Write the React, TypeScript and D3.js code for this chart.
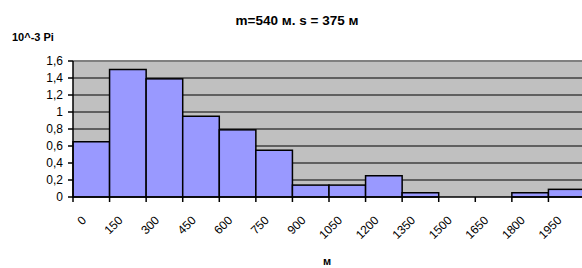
import React from 'react';
import * as d3 from 'd3';

// histogram bins (lower edge, m) and relative frequencies (10^-3)
const binStarts = ['0', '150', '300', '450', '600', '750', '900', '1050', '1200', '1350', '1500', '1650', '1800', '1950'];
const values = [0.65, 1.5, 1.39, 0.95, 0.79, 0.55, 0.14, 0.14, 0.25, 0.05, 0, 0, 0.05, 0.09];
const yTicks = [0, 0.2, 0.4, 0.6, 0.8, 1, 1.2, 1.4, 1.6];

const title = 'm=540 м. s = 375 м';
const yTitle = '10^-3 Pi';
const xTitle = 'м';

const W = 582;
const H = 268;
const plot = { left: 73, right: 585, top: 61, bottom: 197 };
const font = '"Liberation Sans", Arial, sans-serif';

export default function App() {
  const x = d3.scaleBand<string>().domain(binStarts).range([plot.left, plot.right]).padding(0);
  const y = d3.scaleLinear().domain([0, 1.6]).range([plot.bottom, plot.top]);
  const fmt = (v: number) => String(+v.toFixed(1)).replace('.', ',');

  return (
    <div style={{ position: 'fixed', left: 0, top: 0, width: W, height: H, overflow: 'hidden', background: '#fff' }}>
      <svg width={W} height={H} style={{ display: 'block' }} fontFamily={font}>
        <rect x={plot.left} y={plot.top} width={plot.right - plot.left} height={plot.bottom - plot.top} fill="#c0c0c0" />
        {yTicks.filter((t) => t > 0 && t < 1.6).map((t) => (
          <line key={t} x1={plot.left} x2={plot.right} y1={y(t)} y2={y(t)} stroke="#000" strokeWidth={1} />
        ))}
        <line x1={plot.left} x2={plot.right} y1={plot.top} y2={plot.top} stroke="#808080" strokeWidth={2} />
        {values.map((v, i) => (
          <rect
            key={binStarts[i]}
            x={x(binStarts[i])!}
            y={y(v)}
            width={x.bandwidth()}
            height={plot.bottom - y(v)}
            fill="#9999ff"
            stroke="#000"
            strokeWidth={1.5}
          />
        ))}
        <line x1={plot.left} x2={plot.left} y1={plot.top} y2={plot.bottom} stroke="#000" strokeWidth={1.5} />
        <line x1={plot.left} x2={plot.right} y1={plot.bottom} y2={plot.bottom} stroke="#000" strokeWidth={1.5} />
        {yTicks.map((t) => (
          <g key={t} transform={`translate(0,${y(t)})`}>
            <line x1={plot.left - 5} x2={plot.left} stroke="#000" strokeWidth={1.5} />
            <text x={plot.left - 10} dy="0.36em" textAnchor="end" fontSize={12} fill="#000">{fmt(t)}</text>
          </g>
        ))}
        {binStarts.map((b) => (
          <g key={b} transform={`translate(${x(b)!},0)`}>
            <line y1={plot.bottom} y2={plot.bottom + 5} stroke="#000" strokeWidth={1.5} />
            <text
              transform={`translate(8,${plot.bottom + 18}) rotate(-45)`}
              textAnchor="end"
              dy="0.7em"
              fontSize={12}
              fill="#000"
            >
              {b}
            </text>
          </g>
        ))}
        <text x={297} y={25} textAnchor="middle" fontSize={13.5} fontWeight="bold" fill="#000">{title}</text>
        <text x={12} y={41} fontSize={11} fontWeight="bold" fill="#000">{yTitle}</text>
        <text x={327} y={265} textAnchor="middle" fontSize={11} fontWeight="bold" fill="#000">{xTitle}</text>
      </svg>
    </div>
  );
}
